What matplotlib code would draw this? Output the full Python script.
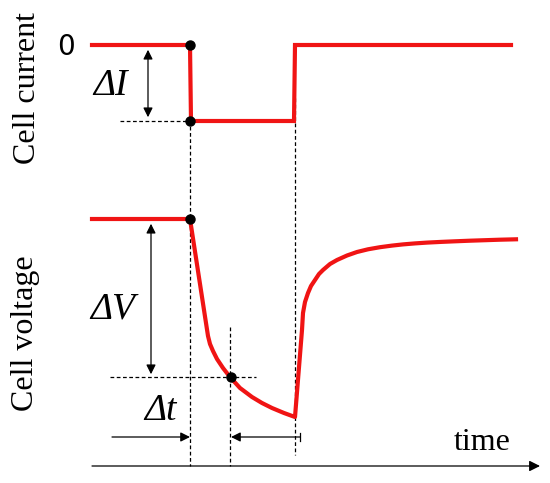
import matplotlib
matplotlib.use("Agg")
import matplotlib.pyplot as plt

# Schematic drawn in picture coordinates (x to the right, y downwards)
current_t = [92, 190, 191, 294, 295, 511]
current_y = [45, 45, 121, 121, 45, 45]

voltage_t = [92, 190, 208, 210, 213, 217, 223, 230, 240, 252, 262, 272, 284, 295,
             302, 303, 305, 308, 311, 315, 319, 323, 330, 337, 347, 357, 368,
             380, 392, 403, 415, 427, 441, 455, 470, 485, 500, 516]
voltage_y = [219, 219, 336, 344, 351, 359, 368, 377, 388, 397, 403, 408, 413, 417,
             330, 313, 302, 293, 286, 280, 274, 270, 264, 260, 255.5, 252, 249.3,
             247.2, 245.6, 244.4, 243.4, 242.6, 241.9, 241.3, 240.7, 240.2, 239.7, 239.3]

dot_t = [190, 190, 190, 231]
dot_y = [45, 121, 219, 377]

red = "#f01414"
serif = "Liberation Serif"

fig = plt.figure(figsize=(5.5, 4.83), dpi=100)
ax = fig.add_axes([0, 0, 1, 1])
ax.set_xlim(0, 550)
ax.set_ylim(483, 0)
ax.axis("off")

# dashed guides
dash = dict(color="black", lw=0.9, ls=(0, (3, 2)))
ax.plot([190, 190], [45, 466], **dash)
ax.plot([230, 230], [327, 466], **dash)
ax.plot([295, 295], [98, 455], **dash)
ax.plot([120, 190], [121, 121], **dash)
ax.plot([110, 256], [377, 377], **dash)

# signals
ax.plot(current_t, current_y, color=red, lw=3, solid_joinstyle="miter", zorder=3)
ax.plot(voltage_t, voltage_y, color=red, lw=3, solid_joinstyle="round", zorder=3)
ax.plot(dot_t, dot_y, "o", color="black", ms=6.5, zorder=4)

# arrows
arr = dict(arrowstyle="-|>", color="black", lw=0.9, mutation_scale=14)
darr = dict(arrowstyle="<|-|>", color="black", lw=0.9, mutation_scale=14)
ax.annotate("", xy=(148, 120), xytext=(148, 47), arrowprops=darr)
ax.annotate("", xy=(151, 377), xytext=(151, 221), arrowprops=darr)
ax.annotate("", xy=(190, 437), xytext=(112, 437), arrowprops=dict(arr, shrinkA=0, shrinkB=0))
ax.annotate("", xy=(231, 437), xytext=(300, 437), arrowprops=dict(arr, shrinkA=0, shrinkB=0))
ax.plot([300, 300], [433, 441], color="black", lw=0.9)
ax.annotate("", xy=(540, 466), xytext=(92, 466),
            arrowprops=dict(arr, shrinkA=0, shrinkB=0, mutation_scale=16))

# texts
ax.text(66, 47, "0", fontsize=20, family="DejaVu Sans", ha="center", va="center")
ax.text(28, 88, "Cell current", fontsize=23, family=serif, rotation=90,
        ha="center", va="center")
ax.text(26, 333, "Cell voltage", fontsize=23, family=serif, rotation=90,
        ha="center", va="center")
ax.text(110, 86, "ΔI", fontsize=27, family=serif, style="italic", ha="center", va="center")
ax.text(113, 309, "ΔV", fontsize=27, family=serif, style="italic", ha="center", va="center")
ax.text(160, 411, "Δt", fontsize=27, family=serif, style="italic", ha="center", va="center")
ax.text(482, 443, "time", fontsize=23, family=serif, ha="center", va="center")

fig.savefig("out.png", dpi=100)
